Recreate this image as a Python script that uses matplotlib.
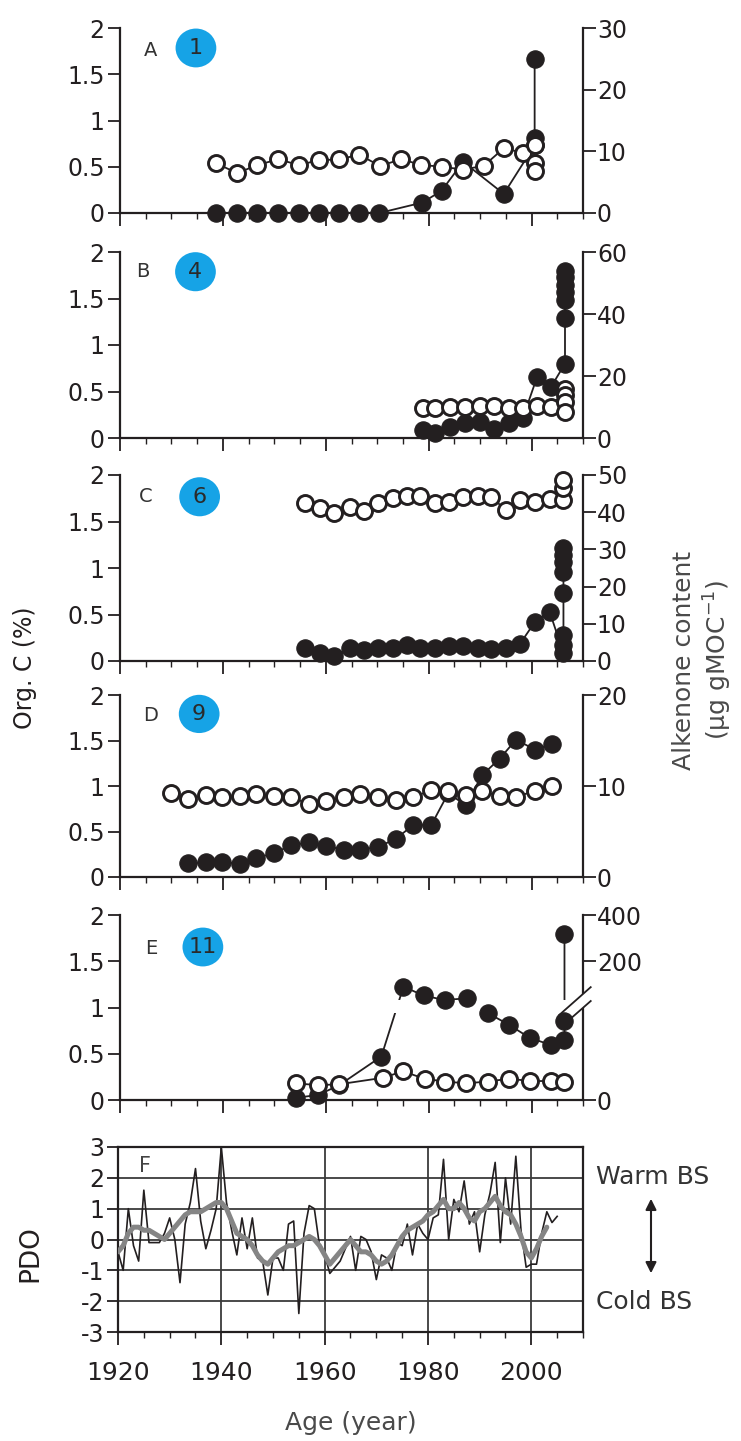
import numpy as np
import matplotlib
matplotlib.use("Agg")
import matplotlib.pyplot as plt
from matplotlib.patches import Ellipse, FancyArrowPatch
from matplotlib.ticker import FixedLocator, MultipleLocator, NullLocator

plt.rcParams['font.family'] = ['DejaVu Sans']
plt.rcParams['axes.unicode_minus'] = False

INK = '#231f20'
BLUE = '#16a3e6'
GREY = '#858585'

# ---- A (site 1): open = Org. C (%), filled = alkenone (ug/gMOC)
a_oc_yr = [1938.6, 1942.8, 1946.7, 1950.8, 1954.7, 1958.7, 1962.6, 1966.5, 1970.5, 1974.7,
           1978.6, 1982.5, 1986.7, 1990.7, 1994.6, 1998.4, 2000.6, 2000.6, 2000.6]
a_oc = [0.54, 0.43, 0.52, 0.58, 0.52, 0.57, 0.58, 0.63, 0.51, 0.58,
        0.52, 0.50, 0.47, 0.51, 0.70, 0.65, 0.74, 0.54, 0.45]
a_alk_yr = [1938.6, 1942.8, 1946.7, 1950.8, 1954.7, 1958.7, 1962.6, 1966.5, 1970.4,
            1978.8, 1982.5, 1986.7, 1994.6, 2000.6, 2000.6, 2000.6]
a_alk = [0, 0, 0, 0, 0, 0, 0, 0, 0, 1.7, 3.6, 8.3, 3.1, 11.0, 12.1, 24.9]

# ---- B (site 4)
b_oc_yr = [1978.9, 1981.2, 1984.1, 1987.0, 1989.9, 1992.7, 1995.6, 1998.3, 2001.1, 2003.8,
           2006.5, 2006.5, 2006.5, 2006.5]
b_oc = [0.32, 0.32, 0.33, 0.33, 0.34, 0.34, 0.32, 0.32, 0.34, 0.33, 0.53, 0.46, 0.39, 0.28]
b_alk_yr = [1978.9, 1981.2, 1984.1, 1987.0, 1989.9, 1992.7, 1995.6, 1998.3, 2001.1, 2003.8,
            2006.5, 2006.5, 2006.5, 2006.5, 2006.5, 2006.5, 2006.5]
b_alk = [2.6, 1.5, 3.6, 4.9, 5.3, 2.8, 4.7, 6.4, 19.8, 16.5, 24.0, 38.6, 44.5, 47.0, 49.5, 52.0, 54.0]

# ---- C (site 6)
c_oc_yr = [1955.9, 1958.8, 1961.6, 1964.7, 1967.4, 1970.2, 1973.0, 1975.7, 1978.4, 1981.2,
           1983.9, 1986.7, 1989.5, 1992.2, 1995.1, 1997.8, 2000.7, 2003.5, 2006.2, 2006.2, 2006.2]
c_oc = [1.70, 1.65, 1.59, 1.66, 1.61, 1.70, 1.75, 1.77, 1.77, 1.70,
        1.71, 1.76, 1.77, 1.76, 1.62, 1.73, 1.71, 1.74, 1.73, 1.86, 1.95]
c_alk_yr = [1955.9, 1958.8, 1961.6, 1964.7, 1967.4, 1970.2, 1973.0, 1975.7, 1978.4, 1981.2,
            1983.9, 1986.7, 1989.5, 1992.2, 1995.1, 1997.8, 2000.7, 2003.5,
            2006.2, 2006.2, 2006.2, 2006.2, 2006.2, 2006.2, 2006.2, 2006.2]
c_alk = [3.6, 2.1, 1.4, 3.4, 3.0, 3.4, 3.6, 4.3, 3.6, 3.6,
         4.1, 3.9, 3.6, 3.2, 3.6, 4.7, 10.6, 13.3,
         2.1, 4.3, 7.0, 18.2, 24.0, 26.7, 28.5, 30.3]

# ---- D (site 9)
d_oc_yr = [1930.0, 1933.3, 1936.7, 1939.9, 1943.3, 1946.5, 1949.9, 1953.3, 1956.8, 1960.1,
           1963.5, 1966.7, 1970.2, 1973.6, 1977.0, 1980.5, 1983.8, 1987.2, 1990.4, 1993.8,
           1997.0, 2000.6, 2004.0]
d_oc = [0.92, 0.86, 0.90, 0.875, 0.89, 0.91, 0.89, 0.875, 0.80, 0.83,
        0.88, 0.91, 0.88, 0.85, 0.875, 0.955, 0.94, 0.90, 0.94, 0.89,
        0.875, 0.95, 1.00]
d_alk_yr = [1933.3, 1936.7, 1939.9, 1943.3, 1946.5, 1949.9, 1953.3, 1956.8, 1960.1, 1963.5,
            1966.7, 1970.2, 1973.6, 1977.0, 1980.5, 1983.8, 1987.2, 1990.4, 1993.8, 1997.0,
            2000.6, 2004.0]
d_alk = [1.5, 1.6, 1.7, 1.4, 2.1, 2.6, 3.5, 3.8, 3.4, 3.0,
         3.0, 3.3, 4.2, 5.7, 5.7, 9.2, 7.9, 11.2, 13.0, 15.1,
         14.0, 14.6]

# ---- E (site 11), alkenone axis is broken
e_oc_yr = [1954.3, 1958.5, 1962.6, 1971.1, 1975.0, 1979.2, 1983.1, 1987.3, 1991.5, 1995.7,
           1999.7, 2003.8, 2006.4]
e_oc = [0.18, 0.16, 0.17, 0.24, 0.31, 0.23, 0.20, 0.18, 0.20, 0.23, 0.205, 0.205, 0.20]
e_alk_yr = [1954.3, 1958.5, 1962.6, 1970.8, 1975.1, 1979.0, 1983.1, 1987.4, 1991.5, 1995.7,
            1999.7, 2003.8, 2006.4, 2006.4, 2006.4]
e_alk = [2.5, 5.4, 16, 47, 145, 126, 116, 120, 94, 81, 67, 59.5, 65, 85, 320]
E_BREAK = (94, 116)          # alkenone values hidden by the axis break
E_SCALE_V = [0, 100, 200, 400]
E_SCALE_P = [0, 1.0, 1.5, 2.0]

# ---- F: PDO index
pdo_annual = [-0.4, -1.0, 1.0, -0.2, -0.7, 1.6, -0.1, -0.1, -0.1, 0.2,
              0.7, 0.0, -1.4, 0.5, 1.2, 2.3, 0.6, -0.3, 0.3, 1.0,
              3.0, 1.2, 0.3, -0.5, 0.7, -0.3, 0.7, -0.6, -0.7, -1.8,
              -0.6, -0.6, -1.0, 0.5, 0.6, -2.4, 0.2, 1.1, 1.0, -0.2,
              -0.5, -1.1, -0.9, -0.7, -0.3, 0.1, -1.0, 0.1, 0.0, -0.4,
              -1.3, -0.5, -0.6, -1.0, -0.1, -0.2, 0.5, -0.5, 0.5, 0.2,
              0.0, 0.7, 0.8, 2.6, 0.0, 1.3, 0.9, 1.9, 0.5, 0.9,
              -0.4, 0.8, 1.5, 2.5, -0.1, 2.0, 0.5, 2.7, 0.3, -0.9,
              -0.8, -0.8, 0.2, 0.9, 0.55, 0.75]
pdo_smooth = [-0.4, -0.2, 0.2, 0.4, 0.4, 0.3, 0.3, 0.2, 0.1, 0.0,
              0.2, 0.4, 0.6, 0.8, 0.9, 0.9, 0.9, 1.0, 1.1, 1.2,
              1.2, 1.0, 0.6, 0.2, 0.1, 0.0, -0.2, -0.5, -0.7, -0.8,
              -0.6, -0.4, -0.3, -0.2, -0.2, -0.1, 0.0, 0.1, 0.0, -0.2,
              -0.5, -0.8, -0.6, -0.4, -0.2, 0.0, -0.2, -0.4, -0.4, -0.5,
              -0.7, -0.8, -0.7, -0.5, -0.2, 0.1, 0.3, 0.4, 0.5, 0.6,
              0.8, 0.9, 1.1, 1.3, 1.0, 1.0, 1.2, 1.0, 0.7, 0.6,
              0.9, 1.0, 1.2, 1.4, 1.1, 0.9, 0.8, 0.5, 0.1, -0.4,
              -0.6, -0.3, 0.1, 0.4]
pdo_yr = list(range(1920, 1920 + len(pdo_annual)))
smooth_yr = list(range(1920, 1920 + len(pdo_smooth)))

W, H = 741, 1441


def box(left, top, right, bottom):
    return [left / W, 1 - bottom / H, (right - left) / W, (bottom - top) / H]


def e_fwd(v):
    return np.interp(v, E_SCALE_V, E_SCALE_P)


def e_inv(p):
    return np.interp(p, E_SCALE_P, E_SCALE_V)


fig = plt.figure(figsize=(W / 100, H / 100), dpi=100)

panels = [
    ('A', '1', (28, 213), a_oc_yr, a_oc, a_alk_yr, a_alk, 30, [0, 10, 20, 30], (0.067, 0.88), (0.164, 0.892)),
    ('B', '4', (252, 438), b_oc_yr, b_oc, b_alk_yr, b_alk, 60, [0, 20, 40, 60], (0.049, 0.894), (0.163, 0.894)),
    ('C', '6', (475, 661), c_oc_yr, c_oc, c_alk_yr, c_alk, 50, [0, 10, 20, 30, 40, 50], (0.056, 0.887), (0.172, 0.883)),
    ('D', '9', (695, 877), d_oc_yr, d_oc, d_alk_yr, d_alk, 20, [0, 10, 20], (0.065, 0.89), (0.171, 0.896)),
    ('E', '11', (915, 1100), e_oc_yr, e_oc, e_alk_yr, e_alk, 400, [0, 200, 400], (0.067, 0.82), (0.179, 0.827)),
]

for letter, site, (top, bot), oc_yr, oc, alk_yr, alk, rmax, rticks, lpos, bpos in panels:
    ax = fig.add_axes(box(120, top, 583, bot))
    ax2 = ax.twinx()
    ax.set_zorder(ax2.get_zorder() + 1)
    ax.patch.set_visible(False)

    if letter == 'E':
        ax2.set_yscale('function', functions=(e_fwd, e_inv))
    ax2.plot(alk_yr, alk, '-', color=INK, lw=1.3, zorder=1, clip_on=False)
    if letter == 'E':
        ax2.fill_between([1966, 2008.6], E_BREAK[0], E_BREAK[1], color='white', lw=0, zorder=2)
    ax2.plot(alk_yr, alk, 'o', ms=12.5, mfc=INK, mec=INK, mew=0.8, zorder=3, clip_on=False)
    ax.plot(oc_yr, oc, '-o', color=INK, lw=1.3, ms=11.5, mfc='white', mec=INK, mew=2.1, clip_on=False)

    ax.set_xlim(1920, 2010)
    ax.set_ylim(0, 2)
    ax.set_yticks([0, 0.5, 1, 1.5, 2])
    ax.set_yticklabels(['0', '0.5', '1', '1.5', '2'])
    ax.xaxis.set_major_locator(FixedLocator([1920, 1940, 1960, 1980, 2000]))
    ax.xaxis.set_minor_locator(MultipleLocator(5))
    ax.tick_params(axis='x', which='major', direction='out', length=9, width=1.3, color=INK, labelbottom=False)
    ax.tick_params(axis='x', which='minor', direction='out', length=4, width=1.0, color=INK)
    ax.tick_params(axis='y', direction='out', length=9, width=1.3, color=INK, labelsize=17, labelcolor=INK, pad=2)
    for s in ('top', 'right'):
        ax.spines[s].set_visible(False)
    for s in ('left', 'bottom'):
        ax.spines[s].set_linewidth(1.6)
        ax.spines[s].set_color(INK)

    ax2.set_ylim(0, rmax)
    ax2.set_yticks(rticks)
    ax2.yaxis.set_minor_locator(NullLocator())
    ax2.tick_params(axis='y', direction='out', length=9, width=1.3, color=INK, labelsize=17, labelcolor=INK, pad=1)
    for s in ('top', 'left', 'bottom'):
        ax2.spines[s].set_visible(False)
    ax2.spines['right'].set_linewidth(1.6)
    ax2.spines['right'].set_color(INK)

    if letter == 'E':
        # break marks on the right axis
        x0, x1 = 2009.3, 2010.7
        ax.fill([x0, x1, x1, x0], [0.963, 1.031, 1.181, 1.112], color='white', lw=0,
                zorder=2.6, clip_on=False)
        ax.plot([2005.4, 2011.5], [0.92, 1.22], color=INK, lw=1.3, clip_on=False, zorder=3)
        ax.plot([2007.4, 2011.5], [0.87, 1.07], color=INK, lw=1.3, clip_on=False, zorder=3)

    ax.text(lpos[0], lpos[1], letter, transform=ax.transAxes, fontsize=14, color='#333333',
            ha='center', va='center')
    ax.add_patch(Ellipse(bpos, 0.088, 0.21, transform=ax.transAxes, facecolor=BLUE,
                         edgecolor='none', clip_on=False, zorder=4))
    ax.text(bpos[0], bpos[1], site, transform=ax.transAxes, fontsize=16, color='#2a2a2a',
            ha='center', va='center', zorder=5)

# ---- F
ax6 = fig.add_axes(box(118, 1147, 583, 1332))
ax6.plot(pdo_yr, pdo_annual, color=INK, lw=1.2, zorder=3)
ax6.plot(smooth_yr, pdo_smooth, color=GREY, lw=3.6, zorder=4, solid_capstyle='round')
ax6.set_xlim(1920, 2010)
ax6.set_ylim(-3, 3)
pdo_ticks = [-3, -2, -1, 0, 1, 2, 3]
ax6.set_yticks(pdo_ticks)
ax6.set_yticklabels([str(v) for v in pdo_ticks])
ax6.xaxis.set_major_locator(FixedLocator([1920, 1940, 1960, 1980, 2000]))
ax6.xaxis.set_minor_locator(MultipleLocator(5))
ax6.grid(True, which='major', color='#3a3a3a', lw=1.3)
ax6.set_axisbelow(True)
ax6.tick_params(axis='x', which='major', direction='out', length=9, width=1.3, color=INK,
                labelsize=18, labelcolor=INK, pad=12)
ax6.tick_params(axis='x', which='minor', direction='out', length=4, width=1.0, color=INK)
ax6.tick_params(axis='y', direction='out', length=8, width=1.3, color=INK, labelsize=17,
                labelcolor=INK, pad=2)
for s in ax6.spines.values():
    s.set_linewidth(1.6)
    s.set_color(INK)
ax6.text(0.057, 0.90, 'F', transform=ax6.transAxes, fontsize=15, color='#444444',
         ha='center', va='center', zorder=6)

# ---- labels
fig.text(25 / W, 1 - 668 / H, 'Org. C (%)', rotation=90, ha='center', va='center',
         fontsize=17, color=INK)
fig.text(703 / W, 1 - 660 / H, 'Alkenone content\n(µg gMOC$^{-1}$)', rotation=90,
         ha='center', va='center', multialignment='center', fontsize=18, color='#4a4a4a',
         linespacing=1.2)
fig.text(351 / W, 1 - 1423 / H, 'Age (year)', ha='center', va='center', fontsize=18,
         color='#4a4a4a')
fig.text(30 / W, 1 - 1254 / H, 'PDO', rotation=90, ha='center', va='center', fontsize=19,
         color=INK)
fig.text(596 / W, 1 - 1177 / H, 'Warm BS', ha='left', va='center', fontsize=18, color='#333333')
fig.text(596 / W, 1 - 1302 / H, 'Cold BS', ha='left', va='center', fontsize=18, color='#333333')
fig.add_artist(FancyArrowPatch((651 / W, 1 - 1196 / H), (651 / W, 1 - 1276 / H),
                               transform=fig.transFigure, arrowstyle='<|-|>',
                               mutation_scale=16, lw=1.5, color=INK))

fig.savefig('out.png', dpi=100)
